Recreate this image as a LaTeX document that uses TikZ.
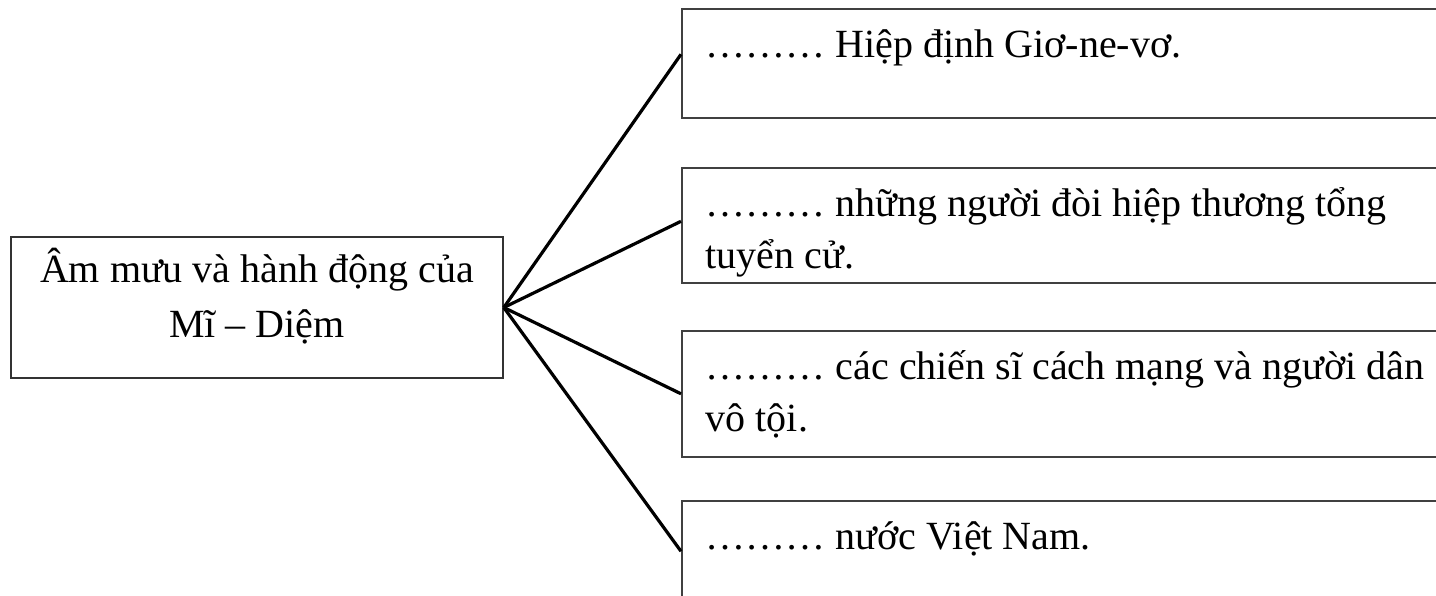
\documentclass[tikz,border=0pt]{standalone}
\usepackage{fontspec}
\setmainfont{Liberation Serif}
\usepackage{tikz}

\begin{document}
\begin{tikzpicture}[x=1pt,y=-1pt,font=\fontsize{40}{52}\selectfont,
  main box/.style={rectangle,draw=black!80,line width=1.6pt,minimum width=492pt,minimum height=141pt,text width=460pt,align=flush center,inner sep=0pt,text height=46pt,text depth=95pt,font=\fontsize{40}{55}\selectfont},
  fill box/.style={rectangle,draw=black!75,line width=1.6pt,anchor=north west,text width=800pt,align=flush left,inner xsep=24pt,inner ysep=10pt,text height=39pt},
  link/.style={-,line width=3.2pt,black}]

  \useasboundingbox (0,0) rectangle (1436,596);

  \node[main box] (main) at (257,307.5) {Âm mưu và hành động của\\Mĩ – Diệm};

  \node[fill box,text depth=50pt] (b1) at (681,8) {……… Hiệp định Giơ-ne-vơ.};
  \node[fill box,text depth=56pt] (b2) at (681,167) {……… những người đòi hiệp thương tổng\\tuyển cử.};
  \node[fill box,text depth=67pt] (b3) at (681,330) {……… các chiến sĩ cách mạng và người dân\\vô tội.};
  \node[fill box,text depth=56pt] (b4) at (681,500) {……… nước Việt Nam.};

  \path[link]
       (main.east) edge ([yshift=9pt]b1.west)
       (main.east) edge ([yshift=4pt]b2.west)
       (main.east) edge (b3.west)
       (main.east) edge ([yshift=7pt]b4.west);
\end{tikzpicture}
\end{document}
